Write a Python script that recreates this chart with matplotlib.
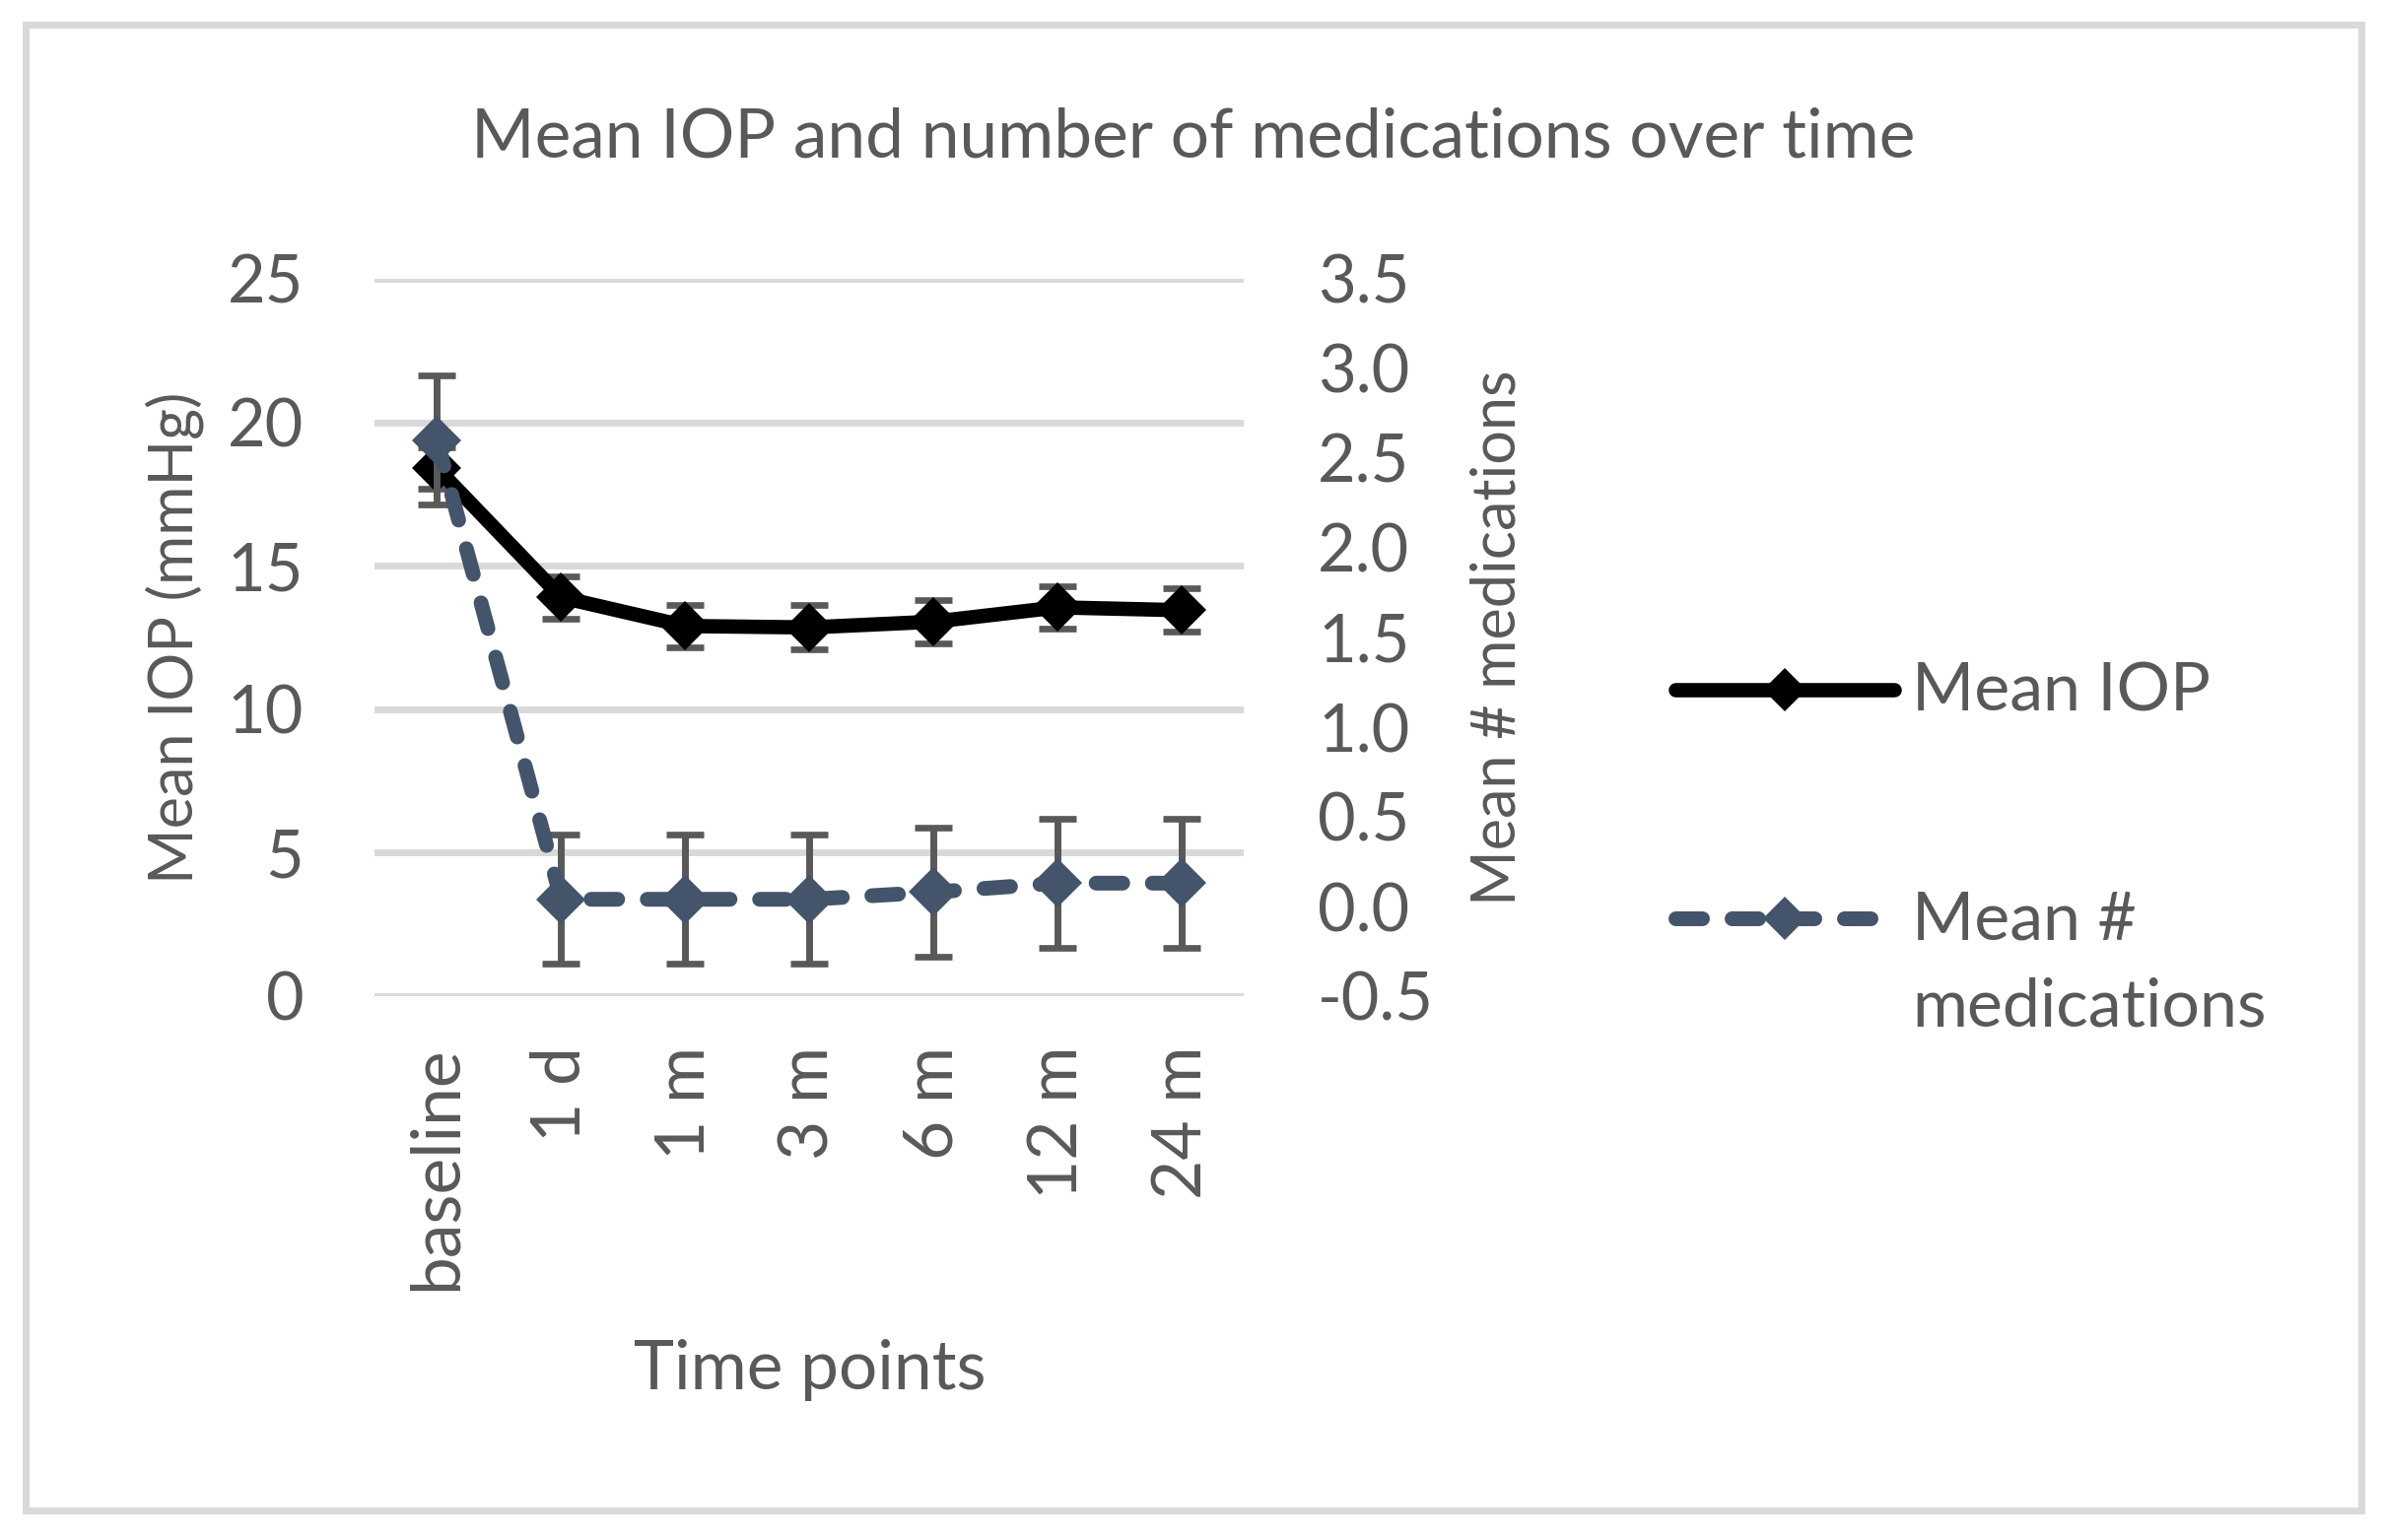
import numpy as np
import matplotlib.pyplot as plt
from matplotlib.lines import Line2D
from matplotlib.patches import Rectangle

plt.rcParams['font.family'] = ['Lato', 'DejaVu Sans']

time_points = ["baseline", "1 d", "1 m", "3 m", "6 m", "12 m", "24 m"]
mean_iop = [18.4, 13.9, 12.9, 12.85, 13.05, 13.55, 13.45]
iop_err = [0.72, 0.74, 0.75, 0.77, 0.75, 0.75, 0.75]
mean_meds = [2.60, 0.04, 0.04, 0.04, 0.08, 0.13, 0.13]
meds_err = [0.36, 0.36, 0.36, 0.36, 0.36, 0.36, 0.36]

left_ticks = [0, 5, 10, 15, 20, 25]
right_ticks = [-0.5, 0.0, 0.5, 1.0, 1.5, 2.0, 2.5, 3.0, 3.5]

grey_text = "#595959"
grid_col = "#D9D9D9"
meds_col = "#44546A"
W, H = 2418, 1563

fig = plt.figure(figsize=(W / 100, H / 100), dpi=100)
fig.add_artist(Rectangle((25.5 / W, 1 - 1533 / H), (2396 - 25.5) / W, (1533 - 24.5) / H,
                         transform=fig.transFigure, fill=False, edgecolor=grid_col, lw=5))

ax = fig.add_axes([380.5 / W, 1 - 1011 / H, 881.5 / W, 728 / H])
x = np.arange(len(time_points))

ax.errorbar(x, mean_iop, yerr=iop_err, fmt='none', ecolor=grey_text, elinewidth=5,
            capsize=14, capthick=4.8, zorder=3)
ax.plot(x, mean_iop, color='black', lw=10.5, marker='D', ms=25, mew=0,
        solid_joinstyle='round', solid_capstyle='round', zorder=4)
ax.set_ylim(0, 25)
ax.set_xlim(-0.5, len(time_points) - 0.5)
ax.set_yticks(left_ticks)
ax.set_yticklabels([str(t) for t in left_ticks])
ax.set_xticks(x)
ax.set_xticklabels(time_points, rotation=90)
ax.yaxis.grid(True, color=grid_col, lw=5)
ax.set_axisbelow(True)
ax.tick_params(axis='y', length=0, pad=52, labelsize=48, labelcolor=grey_text)
ax.tick_params(axis='x', length=0, pad=36.7, labelsize=50, labelcolor=grey_text)
for s in ax.spines.values():
    s.set_visible(False)

ax2 = ax.twinx()
ax2.errorbar(x, mean_meds, yerr=meds_err, fmt='none', ecolor=grey_text, elinewidth=5,
             capsize=14, capthick=4.8, zorder=3)
ax2.plot(x, mean_meds, color=meds_col, lw=10.8, dashes=(1.8, 2.0), marker='D', ms=25, mew=0,
         dash_capstyle='round', dash_joinstyle='round', zorder=4)
ax2.set_ylim(-0.5, 3.5)
ax2.set_yticks(right_ticks)
ax2.set_yticklabels(["%.1f" % t for t in right_ticks])
ax2.tick_params(axis='y', length=0, pad=54, labelsize=48, labelcolor=grey_text)
for s in ax2.spines.values():
    s.set_visible(False)

# titles and axis labels
fig.text(1211 / W, 1 - 160 / H, "Mean IOP and number of medications over time",
         ha='center', va='baseline', fontsize=50, color=grey_text)
fig.text(822 / W, 1 - 1410 / H, "Time points", ha='center', va='baseline',
         fontsize=50, color=grey_text)
fig.text(177 / W, 1 - 647 / H, "Mean IOP (mmHg)", ha='center', va='center',
         rotation=90, fontsize=44, color=grey_text)
fig.text(1520 / W, 1 - 647 / H, "Mean # medications", ha='center', va='center',
         rotation=90, fontsize=44, color=grey_text)

# legend drawn by hand so the handle sits on the first text line
fig.add_artist(Line2D([1700 / W, 1922 / W], [1 - 700 / H, 1 - 700 / H], transform=fig.transFigure,
                      color='black', lw=10.5, solid_capstyle='round'))
fig.add_artist(Line2D([1811 / W], [1 - 700 / H], transform=fig.transFigure,
                      color='black', marker='D', ms=22, mew=0))
fig.add_artist(Line2D([1700 / W, 1922 / W], [1 - 932 / H, 1 - 932 / H], transform=fig.transFigure,
                      color=meds_col, lw=10.8, dashes=(1.8, 2.0), dash_capstyle='round'))
fig.add_artist(Line2D([1811 / W], [1 - 932 / H], transform=fig.transFigure,
                      color=meds_col, marker='D', ms=22, mew=0))
fig.text(1940 / W, 1 - 722 / H, "Mean IOP", ha='left', va='baseline', fontsize=49, color=grey_text)
fig.text(1940 / W, 1 - 953 / H, "Mean #", ha='left', va='baseline', fontsize=49, color=grey_text)
fig.text(1940 / W, 1 - 1042 / H, "medications", ha='left', va='baseline', fontsize=49, color=grey_text)

fig.savefig("out.png", dpi=100)
